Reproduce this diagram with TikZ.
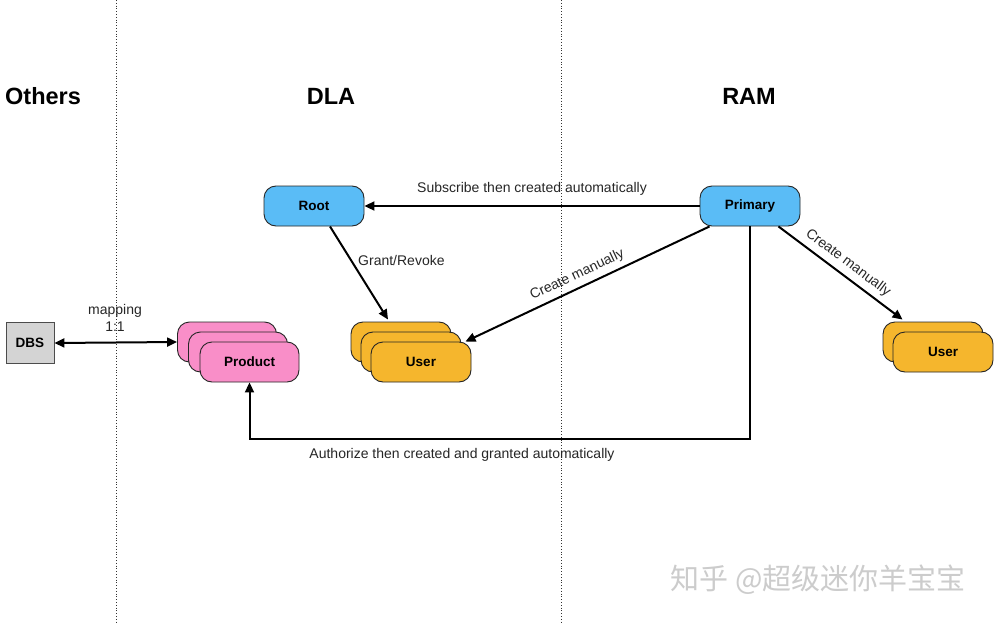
\documentclass[tikz,border=0pt]{standalone}
\usepackage{fontspec}
\setmainfont{Liberation Sans}
\newfontfamily\cjkfont{Noto Sans CJK SC}
\usetikzlibrary{arrows.meta,calc}
\definecolor{boxblue}{RGB}{90,188,246}
\definecolor{boxorange}{RGB}{245,182,45}
\definecolor{boxpink}{RGB}{249,142,200}
\definecolor{boxgray}{RGB}{212,212,212}
\tikzset{
  rbox/.style={draw=black!85, line width=0.9pt, rounded corners=12pt, minimum width=100pt, minimum height=40pt, inner sep=0pt, font=\fontsize{13.5}{15}\selectfont\bfseries},
  bluebox/.style={rbox, fill=boxblue},
  orangebox/.style={rbox, fill=boxorange},
  pinkbox/.style={rbox, fill=boxpink, minimum width=99pt},
  graybox/.style={draw=black!70, line width=0.8pt, fill=boxgray, minimum width=48pt, minimum height=41pt, inner sep=0pt, font=\fontsize{13.5}{15}\selectfont\bfseries},
  arr/.style={line width=2pt, -{Triangle[length=10pt,width=9pt]}},
  darr/.style={line width=2pt, {Triangle[length=10pt,width=9pt]}-{Triangle[length=10pt,width=9pt]}},
  lbl/.style={font=\fontsize{14}{16}\selectfont, text=black!85, inner sep=1pt},
  head/.style={font=\fontsize{23.5}{26}\selectfont\bfseries},
  sep/.style={black!80, line width=0.8pt, dotted}
}
\begin{document}
\begin{tikzpicture}[x=1pt,y=-1pt]
\useasboundingbox[fill=white] (0,0) rectangle (995,623);
% separators
\draw[sep] (116,0) -- (116,623);
\draw[sep] (561,0) -- (561,623);
% headings
\node[head, anchor=west, inner sep=0pt] (hOthers) at (5,96) {Others};
\node[head] (hDLA) at (331,96) {DLA};
\node[head] (hRAM) at (749,96) {RAM};
% top boxes
\node[bluebox] (root) at (314,206) {Root};
\node[bluebox] (primary) at (750,206) {Primary};
% DBS
\node[graybox] (dbs) at (30,343) {DBS};
% product stack
\node[pinkbox] (prodA) at (227,342) {};
\node[pinkbox] (prodB) at (238,352) {};
\node[pinkbox] (prod) at (249.5,362) {Product};
% DLA user stack
\node[orangebox] (userA) at (401,342) {};
\node[orangebox] (userB) at (411,352) {};
\node[orangebox] (user) at (421,362) {User};
% RAM user stack
\node[orangebox] (ruserA) at (933,342) {};
\node[orangebox] (ruser) at (943,352) {User};
% connectors
\draw[arr] (primary.west) -- (root.east)
  node[lbl, midway, above=9pt] (lSub) {Subscribe then created automatically};
\draw[arr] ($(root.south)+(16,0)$) -- ($(userA.north)+(-13,-2)$);
\node[lbl, anchor=west] (lGrant) at (357,260) {Grant/Revoke};
\draw[arr] ($(primary.south west)+(10,0)$) -- ($(user.north east)+(-6,0)$)
  node[lbl, pos=0.52, sloped, above=4pt] (lCm1) {Create manually};
\draw[arr] ($(primary.south east)+(-22,0)$) -- ($(ruserA.north west)+(20,-2)$)
  node[lbl, pos=0.5, sloped, above=4pt] (lCm2) {Create manually};
\draw[darr] (dbs.east) -- (prodA.west);
\node[lbl, align=center] (lMap) at (115,318) {mapping\\[1pt]1:1};
\draw[arr] (primary.south) -- (primary.south |- 0,439) -| (prod.south);
\node[lbl] (lAuth) at (462,455) {Authorize then created and granted automatically};
% watermark
\node[font=\cjkfont\fontsize{29}{32}\selectfont, text=black!20] (wm) at (818,580) {知乎 @超级迷你羊宝宝};
\end{tikzpicture}
\end{document}
